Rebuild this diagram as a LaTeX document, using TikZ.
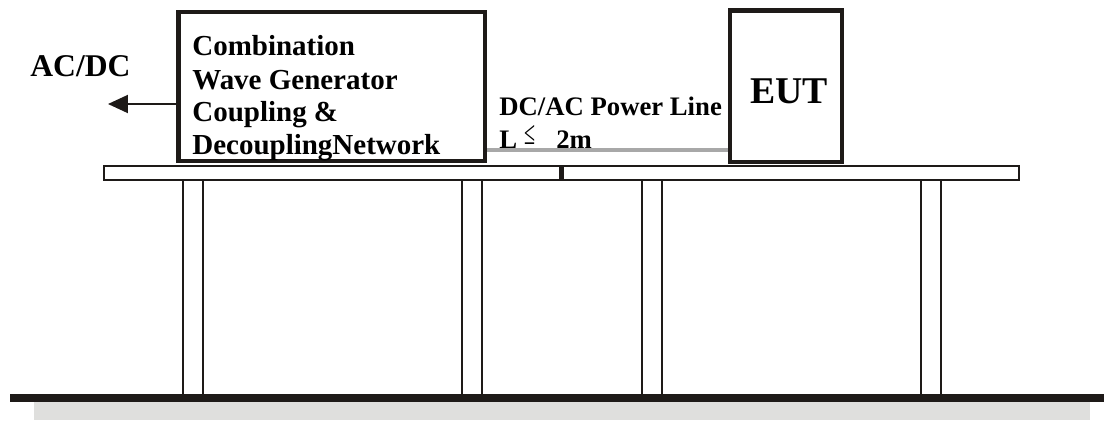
\documentclass[tikz,border=0pt]{standalone}
\usepackage{fontspec}
\setmainfont{Liberation Serif}
\usetikzlibrary{arrows.meta}
\definecolor{ink}{RGB}{30,26,24}
\definecolor{floorgray}{RGB}{223,223,221}
\definecolor{cablegray}{RGB}{168,168,168}
\begin{document}
\begin{tikzpicture}[x=.02cm,y=-.02cm,
  lbl/.style={font=\bfseries\fontsize{15.2}{18}\selectfont,inner sep=0pt,anchor=base west},
  box/.style={draw=ink,line width=2.5pt,inner sep=0pt},
  leg/.style={draw=ink,line width=1.1pt}]
 \useasboundingbox (0,0) rectangle (1104,420);
 % floor
 \fill[floorgray] (34,402) rectangle (1090,420);
 \fill[ink] (10,394) rectangle (1104,402);
 % tables
 \foreach \x in {183,462,642,921}{
  \draw[leg] (\x,180) -- (\x,394) (\x+20,180) -- (\x+20,394);}
 \draw[leg] (104,166) rectangle (560,180) (563,166) rectangle (1019,180);
 \fill[ink] (559.5,165) rectangle (563.5,181);
 % equipment
 \node[box,minimum width=6.13cm,minimum height=2.98cm] (gen) at (331.75,86.5) {};
 \node[box,minimum width=2.24cm,minimum height=3.03cm] (eut) at (786,86.25) {};
 \foreach \y/\t [count=\i] in {55/Combination,89/Wave Generator,121/Coupling \&,154/DecouplingNetwork}
  \node[lbl,font=\bfseries\fontsize{16.5}{18}\selectfont] (gen\i) at (192,\y) {\t};
 \node[lbl,font=\bfseries\fontsize{21.5}{24}\selectfont] (euttxt) at (750,103) {EUT};
 \node[lbl,font=\bfseries\fontsize{18}{20}\selectfont] (acdc) at (30,76) {AC/DC};
 \node[lbl] (pwr) at (499,115) {DC/AC Power Line};
 \node[lbl] (len) at (499,148)
  {L\hspace{4pt}\raisebox{2pt}{\scalebox{.6}[1]{\mdseries\fontsize{19}{19}\selectfont ≤}}\hspace{12pt}2m};
 % cables
 \coordinate (acend) at (108,104);
 \coordinate (cable) at (0,150);
 \draw[ink,line width=1.1pt,-{Triangle[length=4mm,width=3.6mm]}] (gen.west |- acend) -- (acend);
 \draw[cablegray,line width=2.8pt] (gen.east |- cable) -- (eut.west |- cable);
\end{tikzpicture}
\end{document}
